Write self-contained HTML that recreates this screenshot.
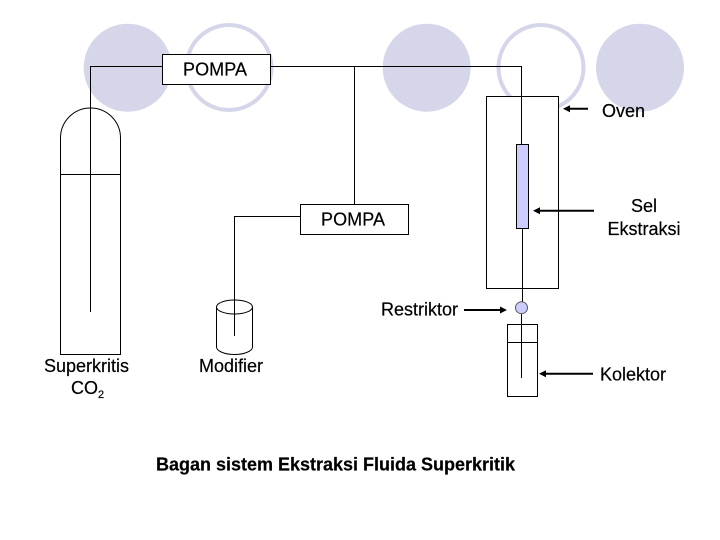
<!DOCTYPE html>
<html>
<head>
<meta charset="utf-8">
<style>
html,body{margin:0;padding:0;background:#fff;width:720px;height:540px;overflow:hidden}
svg{display:block}
text{font-family:"Liberation Sans",Arial,sans-serif;font-size:18px;fill:#000;stroke:#000;stroke-width:.2}
</style>
</head>
<body>
<svg width="720" height="540" viewBox="0 0 720 540" xmlns="http://www.w3.org/2000/svg">
<rect width="720" height="540" fill="#fff"/>
<circle cx="127.7" cy="67.7" r="44" fill="#d6d6ea"/>
<circle cx="229" cy="67.5" r="42.5" fill="none" stroke="#d6d6ea" stroke-width="4"/>
<circle cx="426.7" cy="67.7" r="44" fill="#d6d6ea"/>
<circle cx="541" cy="67.5" r="42.5" fill="none" stroke="#d6d6ea" stroke-width="4"/>
<circle cx="640" cy="67.7" r="44" fill="#d6d6ea"/>

<g fill="none" stroke="#000" stroke-width="1">
<rect x="486.5" y="96.5" width="72" height="192" fill="#fff"/>
<rect x="162.5" y="54.5" width="108" height="30" fill="#fff"/>
<path d="M162 66.5H90.5V312"/>
<path d="M271 66.5H522"/>
<path d="M521.5 66V144"/>
<path d="M354.5 66V204"/>
<rect x="300.5" y="204.5" width="108" height="30" fill="#fff"/>
<path d="M300 216.5H234.5V336"/>
<path d="M60.5 138A30 30 0 0 1 120.5 138V354.5H60.5Z"/>
<path d="M60.5 174.5H120.5"/>
<path d="M216.5 307V347C216.5 351 224.5 354.5 234.5 354.5S252.5 351 252.5 347V307"/>
<ellipse cx="234.5" cy="307" rx="18" ry="7"/>
<rect x="516.5" y="144.5" width="12" height="84" fill="#ccccff"/>
<path d="M522.5 228V302"/>
<path d="M521.5 313V378"/>
<circle cx="521.5" cy="307.7" r="6" fill="#ccccff" stroke="#555"/>
<rect x="507.5" y="324.5" width="30" height="72"/>
<path d="M507.5 342.5H537.5"/>
</g>

<g stroke="#000" stroke-width="2" fill="none">
<path d="M588 108.7H568"/>
<path d="M594 210.7H538"/>
<path d="M464 310H502"/>
<path d="M593 373.7H544"/>
</g>
<g fill="#000">
<path d="M563 108.7l7-3.5v7z"/>
<path d="M533 210.7l7-3.5v7z"/>
<path d="M507 310l-7-3.5v7z"/>
<path d="M539 373.7l7-3.5v7z"/>
</g>

<text x="183" y="75.5" textLength="64">POMPA</text>
<text x="321" y="225.5" textLength="64">POMPA</text>
<text x="602" y="117" textLength="43">Oven</text>
<text x="644" y="212" text-anchor="middle">Sel</text>
<text x="644" y="235" text-anchor="middle">Ekstraksi</text>
<text x="381" y="315.5" textLength="77">Restriktor</text>
<text x="600" y="380.5" textLength="66">Kolektor</text>
<text x="44" y="372" textLength="85">Superkritis</text>
<text x="71" y="394">CO<tspan font-size="11" dy="4">2</tspan></text>
<text x="199" y="372" textLength="64">Modifier</text>
<text x="156" y="470.5" font-weight="bold" textLength="359">Bagan sistem Ekstraksi Fluida Superkritik</text>
</svg>
</body>
</html>
